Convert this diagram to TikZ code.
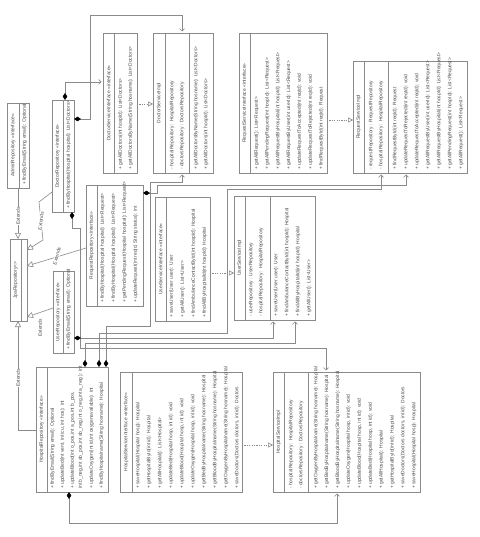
\documentclass[tikz,border=0pt]{standalone}
\usepackage{fontspec}
\setmainfont{Liberation Sans}
\usetikzlibrary{arrows.meta}
\definecolor{edge}{HTML}{8A8A8A}
\definecolor{ink}{HTML}{4A4A4A}

\tikzset{
  umlbox/.style={draw=edge, fill=white, line width=0.7pt, inner sep=0pt, outer sep=0pt, rectangle},
  part/.style={draw=edge, line width=0.7pt},
  member/.style={rotate=90, anchor=west, inner sep=0pt, font=\fontsize{4.9}{6}\selectfont, text=ink},
  heading/.style={rotate=90, inner sep=0pt, font=\fontsize{4.9}{6}\selectfont, text=ink},
  assoc/.style={draw=edge, line width=0.6pt, shorten >=1.5pt,
    {Diamond[length=7pt,width=4.5pt,black]}-{Straight Barb[length=2.5pt,width=5pt]}},
  realize/.style={draw=edge, line width=0.6pt, dash pattern=on 1.2pt off 1.2pt,
    -{Triangle[length=5pt,width=5pt,fill=white]}},
  extends/.style={draw=edge, line width=0.6pt, -{Triangle[length=6pt,width=6pt,fill=white]}},
  tag/.style={font=\fontsize{4.9}{6}\selectfont, text=ink, inner sep=0.6pt, fill=white},
}

\begin{document}
\begin{tikzpicture}[x=1pt, y=-1pt]
\fill[white] (0,0) rectangle (479,537);
\useasboundingbox (0,0) rectangle (479,537);

% ---------------- class boxes ----------------
\node[umlbox, minimum width=22pt, minimum height=85pt]  (admin)  at (18,145.5) {};
\node[umlbox, minimum width=22pt, minimum height=112pt] (drepo)  at (63,156) {};
\node[umlbox, minimum width=34pt, minimum height=140pt] (dsi)    at (120,103) {};
\node[umlbox, minimum width=60pt, minimum height=140pt] (dsimpl) at (183,103) {};
\node[umlbox, minimum width=88pt, minimum height=140pt] (rsi)    at (283,103) {};
\node[umlbox, minimum width=114pt, minimum height=112pt] (rsimpl) at (410,117) {};
\node[umlbox, minimum width=57pt, minimum height=121pt] (rrepo)  at (114.5,245.5) {};
\node[umlbox, minimum width=17pt, minimum height=82pt]  (jpa)    at (18.5,280) {};
\node[umlbox, minimum width=21pt, minimum height=82pt]  (urepo)  at (63.5,312) {};
\node[umlbox, minimum width=55pt, minimum height=124pt] (usi)    at (182.5,259) {};
\node[umlbox, minimum width=81pt, minimum height=124pt] (usimpl) at (274.5,258) {};
\node[umlbox, minimum width=72pt, minimum height=125pt] (hrepo)  at (72,429.5) {};
\node[umlbox, minimum width=122pt, minimum height=120pt] (hsi)   at (181,432) {};
\node[umlbox, minimum width=147pt, minimum height=120pt] (hsimpl) at (346.5,432) {};

% compartment dividers
\draw[part] (19,103) -- (19,188);
\draw[part] (63,100) -- (63,212);
\draw[part] (114,33) -- (114,173);
\draw[part] (165,33) -- (165,173);
\draw[part] (189,33) -- (189,173);
\draw[part] (250,33) -- (250,173);
\draw[part] (364,61) -- (364,173);
\draw[part] (388,61) -- (388,173);
\draw[part] (97,185) -- (97,306);
\draw[part] (21,239) -- (21,321);
\draw[part] (63,271) -- (63,353);
\draw[part] (166,197) -- (166,321);
\draw[part] (245,196) -- (245,320);
\draw[part] (270,196) -- (270,320);
\draw[part] (47,367) -- (47,492);
\draw[part] (132,372) -- (132,492);
\draw[part] (284,372) -- (284,492);
\draw[part] (308,372) -- (308,492);

% ---------------- titles ----------------
\node[heading] (adminT)  at (13,145.5)  {AdminRepository <<interface>>};
\node[heading] (drepoT)  at (57.5,156)  {DoctorRepository <<interface>>};
\node[heading] (dsiT)    at (108.5,103) {DoctorServiceInterface <<interface>>};
\node[heading] (dsimplT) at (159,103)   {DoctorServiceImpl};
\node[heading] (rsiT)    at (244.5,103) {RequestServiceInterface <<interface>>};
\node[heading] (rsimplT) at (358.5,117) {RequestServiceImpl};
\node[heading] (rrepoT)  at (91.5,245.5) {RequestRepository <<interface>>};
\node[heading] (jpaT)    at (15.5,280)  {JpaRepository<>};
\node[heading] (urepoT)  at (58,312)    {UserRepository <<interface>>};
\node[heading] (usiT)    at (160.5,259) {UserServiceInterface <<interface>>};
\node[heading] (usimplT) at (239.5,258) {UserServiceImpl};
\node[heading] (hrepoT)  at (41.5,429.5) {HospitalRepository <<interface>>};
\node[heading] (hsiT)    at (126,432)   {HospitalServiceInterface <<interface>>};
\node[heading] (hsimplT) at (278.5,432) {HospitalServiceImpl};

% ---------------- members ----------------
\node[member] at (24.5,185) {+ findByEmail(String email): Optional};

\node[member] at (68.5,209) {+ findByHospital(Hospital hospital): List<Doctors>};

\node[member] at (120.5,170) {+ getAllDoctors(int hospId): List<Doctors>};
\node[member] at (130.5,170) {+ getAllDoctorsByName(String hosname): List<Doctors>};

\node[member] at (172,170) {- hospitalRepository : HospitalRepository};
\node[member] at (182,170) {- doctorsRepository : DoctorsRepository};
\node[member] at (196,170) {+ getAllDoctorsByName(String hosname): List<Doctors>};
\node[member] at (206,170) {+ getAllDoctors(int hospId): List<Doctors>};

\node[member] at (256.5,170) {+ getAllRequest(): List<Request>};
\node[member] at (267.3,170) {+ getAllPendingRequest(int hospId): List<Request>};
\node[member] at (278.1,170) {+ getAllRequestByHospital(int hospId): List<Request>};
\node[member] at (288.9,170) {+ getAllRequestByUser(int userId): List<Request>};
\node[member] at (299.7,170) {+ updateRequestToAccepted(int reqId): void};
\node[member] at (310.5,170) {+ updateRequestToRejected(int reqId): void};
\node[member] at (321.3,170) {+ findRequestById(int reqId): Request};

\node[member] at (371,170) {- requestRepository : RequestRepository};
\node[member] at (381,170) {- hospitalRepository : HospitalRepository};
\node[member] at (395,170) {+ findRequestById(int reqId): Request};
\node[member] at (406,170) {+ updateRequestToRejected(int reqId): void};
\node[member] at (417,170) {+ updateRequestToAccepted(int reqId): void};
\node[member] at (428,170) {+ getAllRequestByUser(int userId): List<Request>};
\node[member] at (439,170) {+ getAllRequestByHospital(int hospId): List<Request>};
\node[member] at (450,170) {+ getAllPendingRequest(int hospId): List<Request>};
\node[member] at (461,170) {+ getAllRequest(): List<Request>};

\node[member] at (102.5,303) {+ findByHospital(Hospital hospital): List<Request>};
\node[member] at (113.5,303) {+ findByHospital(Hospital hospital): List<Request>};
\node[member] at (124.5,303) {+ getPendingRequest(Hospital hospital): List<Request>};
\node[member] at (135.5,303) {+ updateRequest(int reqId, String status): int};

\node[member] at (68.5,350) {+ findByEmail(String email): Optional};

\node[member] at (171.5,318) {+ saveUser(User user): User};
\node[member] at (182.5,318) {+ getAllUser(): List<User>};
\node[member] at (193.5,318) {+ findAmbulanceContactById(int hospId): Hospital};
\node[member] at (204.5,318) {+ findAllByHospitalId(int hospId): Hospital};

\node[member] at (251,317) {- userRepository : UserRepository};
\node[member] at (261,317) {- hospitalRepository : HospitalRepository};
\node[member] at (276,317) {+ saveUser(User user): User};
\node[member] at (287,317) {+ findAmbulanceContactById(int hospId): Hospital};
\node[member] at (298,317) {+ findAllByHospitalId(int hospId): Hospital};
\node[member] at (309,317) {+ getAllUser(): List<User>};

\node[member] at (52.5,489) {+ findByEmail(String email): Optional};
\node[member] at (62.5,489) {+ updateBed(int vent, int icu, int hos): int};
\node[member] at (72.5,489) {+ updateBlood(int o\_pos,int a\_pos,int b\_pos,};
\node[member] at (80.5,489) {int b\_neg,int ab\_pos,int ab\_neg,int o\_neg,int a\_neg ): int};
\node[member] at (91.5,489) {+ updateOxygen(int id,int oxygenavailable): int};
\node[member] at (101.5,489) {+ findByHospitalname(String hosname): Hospital};

\node[member] at (138,489) {+ saveHospital(Hospital hosp): Hospital};
\node[member] at (149,489) {+ getHospitalById(int id): Hospital};
\node[member] at (160,489) {+ getAllHospital(): List<Hospital>};
\node[member] at (171,489) {+ updateBed(Hospital hosp, int id): void};
\node[member] at (182,489) {+ updateBlood(Hospital hosp, int id): void};
\node[member] at (193,489) {+ updateOxygen(Hospital hosp, int id): void};
\node[member] at (204,489) {+ getBedByHospitalname(String hosname): Hospital};
\node[member] at (215,489) {+ getBloodByHospitalname(String hosname): Hospital};
\node[member] at (226,489) {+ getOxygenByHospitalname(String hosname): Hospital};
\node[member] at (237,489) {+ saveDoctors(Doctors doctors, int id): Doctors};

\node[member] at (291,489) {- hospitalRepository : HospitalRepository};
\node[member] at (301,489) {- doctorsRepository : DoctorsRepository};
\node[member] at (316,489) {+ getOxygenByHospitalname(String hosname): Hospital};
\node[member] at (326.9,489) {+ getBedByHospitalname(String hosname): Hospital};
\node[member] at (337.8,489) {+ getBloodByHospitalname(String hosname): Hospital};
\node[member] at (348.7,489) {+ updateOxygen(Hospital hosp, int id): void};
\node[member] at (359.6,489) {+ updateBlood(Hospital hosp, int id): void};
\node[member] at (370.5,489) {+ updateBed(Hospital hosp, int id): void};
\node[member] at (381.4,489) {+ getAllHospital(): Hospital};
\node[member] at (392.3,489) {+ getHospitalById(int id): Hospital};
\node[member] at (403.2,489) {+ saveDoctors(Doctors doctors, int id): Doctors};
\node[member] at (414.1,489) {+ saveHospital(Hospital hosp): Hospital};

% ---------------- realizations ----------------
\draw[realize] (dsi.east |- 0,104) -- (dsimpl.west |- 0,104);
\draw[realize] (rsi.east |- 0,120) -- (rsimpl.west |- 0,120);
\draw[realize] (usi.east |- 0,273) -- (usimpl.west |- 0,273);
\draw[realize] (hsi.east |- 0,445) -- (hsimpl.west |- 0,445);

% ---------------- generalizations to JpaRepository ----------------
\draw[extends] (admin.south -| 18,0) -- (jpa.north -| 18,0);
\node[tag, rotate=90] (ext1) at (18,216) {Extends};
\draw[extends] (drepo.west |- 0,192) -- (39,202) -- (43,240) -- (jpa.east |- 0,250);
\node[tag, rotate=82] (ext2) at (41,221) {Extends};
\draw[extends] (rrepo.west |- 0,248) -- (jpa.east |- 0,266);
\node[tag, rotate=75] (ext3) at (57,256) {Extends};
\draw[extends] (urepo.west |- 0,308) -- (jpa.east |- 0,317);
\node[tag, rotate=90] (ext4) at (40,328) {Extends};
\draw[extends] (hrepo.west |- 0,430) -- (18,430) -- (jpa.south -| 18,0);
\node[tag, rotate=90] (ext5) at (18,378) {Extends};

% ---------------- associations ----------------
\draw[assoc] (drepo.east |- 0,119) -- (90,119) -- (90,15) -- (182,15) -- (dsimpl.north -| 182,0);
\draw[assoc] (drepo.north -| 65,0) -- (65,82) -- (dsi.west |- 0,82);
\draw[assoc] (drepo.south -| 72,0) -- (72,228) -- (80,228) -- (80,348) -- (326,348) -- (hsimpl.north -| 326,0);
\draw[assoc] (hrepo.north -| 106,0) -- (106,326) -- (150,326) -- (150,182) -- (182,182) -- (dsimpl.south -| 182,0);
\draw[assoc] (hrepo.north -| 99,0) -- (99,333) -- (227,333) -- (227,189) -- (381,189) -- (rsimpl.south -| 381,0);
\draw[assoc] (hrepo.north -| 85,0) -- (85,343) -- (295,343) -- (usimpl.south -| 295,0);
\draw[assoc] (hrepo.south -| 69,0) -- (69,523) -- (337,523) -- (hsimpl.south -| 337,0);
\draw[assoc] (rrepo.east |- 0,193) -- (157,193) -- (157,185) -- (406,185) -- (rsimpl.south -| 406,0);
\draw[assoc] (urepo.east |- 0,338) -- (273,338) -- (usimpl.south -| 273,0);
\end{tikzpicture}
\end{document}
